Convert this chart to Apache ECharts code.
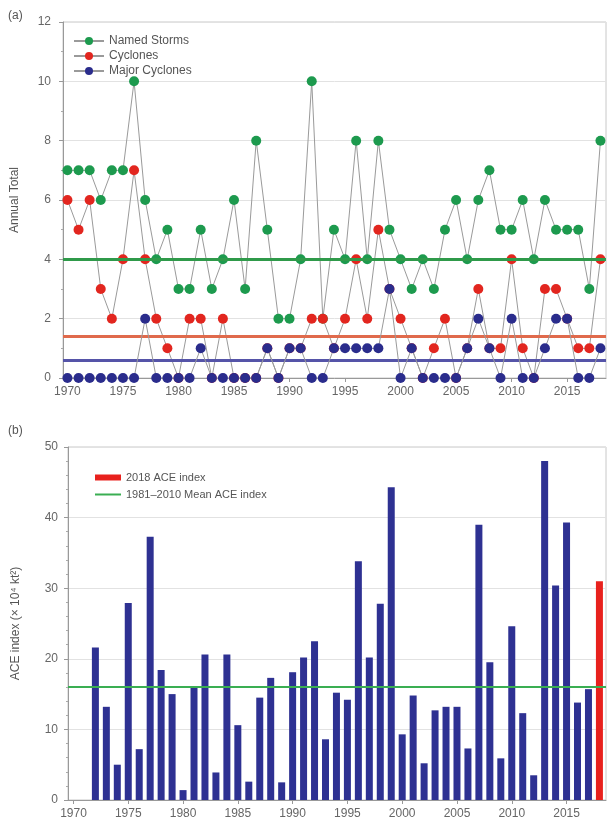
<!DOCTYPE html>
<html>
<head>
<meta charset="utf-8">
<style>
  html, body { margin: 0; padding: 0; background: #fff; }
  #chart { width: 608px; height: 823px; }
</style>
<script src="https://cdn.jsdelivr.net/npm/echarts@6/dist/echarts.min.js"></script>
</head>
<body>
<div id="chart"></div>
<script>
// ---- Data ----
const years = [];
for (let y = 1970; y <= 2018; y++) years.push(y);

const namedStorms = [7,7,7,6,7,7,10,6,4,5,3,3,5,3,4,6,3,8,5,2,2,4,10,2,5,4,8,4,8,5,4,3,4,3,5,6,4,6,7,5,5,6,4,6,5,5,5,3,8];
const cyclones    = [6,5,6,3,2,4,7,4,2,1,0,2,2,0,2,0,0,0,1,0,1,1,2,2,1,2,4,2,5,3,2,1,0,1,2,0,1,3,1,1,4,1,0,3,3,2,1,1,4];
const majorCyc    = [0,0,0,0,0,0,0,2,0,0,0,0,1,0,0,0,0,0,1,0,1,1,0,0,1,1,1,1,1,3,0,1,0,0,0,0,1,2,1,0,2,0,0,1,2,2,0,0,1];

const meanNamed = 4.0;
const meanCyclones = 1.4;
const meanMajor = 0.6;

const aceYears = [];
for (let y = 1972; y <= 2017; y++) aceYears.push(y);
const aceValues = [21.6,13.2,5.0,27.9,7.2,37.3,18.4,15.0,1.4,16.0,20.6,3.9,20.6,10.6,2.6,14.5,17.3,2.5,18.1,20.2,22.5,8.6,15.2,14.2,33.8,20.2,27.8,44.3,9.3,14.8,5.2,12.7,13.2,13.2,7.3,39.0,19.5,5.9,24.6,12.3,3.5,48.0,30.4,39.3,13.8,15.7];
const ace2018Year = 2018;
const ace2018Value = 31.0;
const meanACE = 16.0;

const yearTicks = [1970,1975,1980,1985,1990,1995,2000,2005,2010,2015];

// ---- Chart ----
const chart = echarts.init(document.getElementById('chart'), null, { renderer: 'canvas' });
const FONT = 'Liberation Sans, Arial, sans-serif';
const labelStyle = { color: '#666', fontSize: 12, fontFamily: FONT };
const pairs = (xs, vs) => xs.map((x, i) => [x, vs[i]]);
const yearFmt = v => String(Math.round(v));

const lineSeries = (name, vals, color, z) => ({
  name, type: 'line', xAxisIndex: 0, yAxisIndex: 0,
  data: pairs(years, vals),
  symbol: 'circle', symbolSize: 10,
  lineStyle: { color: '#9a9a9a', width: 1 },
  itemStyle: { color },
  z, animation: false
});

const xAxisCommon = {
  type: 'value',
  axisLine: { show: true, lineStyle: { color: '#999' } },
  axisTick: { show: true, customValues: yearTicks, length: 4, lineStyle: { color: '#999' } },
  axisLabel: Object.assign({ customValues: yearTicks, margin: 8, formatter: yearFmt }, labelStyle),
  splitLine: { show: false }
};

const option = {
  animation: false,
  backgroundColor: '#fff',
  grid: [
    { left: 63, right: 2, top: 22, height: 356, show: true, borderColor: '#c8c8c8', borderWidth: 1 },
    { left: 68, right: 2, top: 447, height: 353, show: true, borderColor: '#c8c8c8', borderWidth: 1 }
  ],
  legend: [
    {
      orient: 'vertical', left: 68, top: 30, itemGap: 3, itemWidth: 30, itemHeight: 10,
      textStyle: { color: '#555', fontSize: 12, fontFamily: FONT },
      data: ['Named Storms', 'Cyclones', 'Major Cyclones']
    },
    {
      orient: 'vertical', left: 90, top: 467, itemWidth: 26, itemHeight: 6,
      textStyle: { color: '#555', fontSize: 11, fontFamily: FONT },
      data: [{ name: '2018 ACE index', icon: 'rect' }]
    },
    {
      orient: 'vertical', left: 90, top: 484, itemWidth: 26, itemHeight: 2,
      textStyle: { color: '#555', fontSize: 11, fontFamily: FONT },
      data: [{ name: '1981–2010 Mean ACE index', icon: 'rect' }]
    }
  ],
  graphic: [
    { type: 'text', left: 8, top: 10, style: { text: '(a)', fill: '#555', font: '12px ' + FONT } },
    { type: 'text', left: 8, top: 425, style: { text: '(b)', fill: '#555', font: '12px ' + FONT } }
  ],
  xAxis: [
    Object.assign({ gridIndex: 0, min: 1969.6, max: 2018.5 }, xAxisCommon),
    Object.assign({ gridIndex: 1, min: 1969.5, max: 2018.6 }, xAxisCommon)
  ],
  yAxis: [
    {
      gridIndex: 0, type: 'value', min: 0, max: 12, interval: 2,
      name: 'Annual Total', nameLocation: 'middle', nameGap: 42,
      nameTextStyle: { color: '#555', fontSize: 12, fontFamily: FONT },
      axisLine: { show: true, lineStyle: { color: '#999' } },
      axisTick: { show: true, length: 4, lineStyle: { color: '#999' } },
      minorTick: { show: true, splitNumber: 2, length: 2, lineStyle: { color: '#aaa' } },
      axisLabel: Object.assign({ margin: 12 }, labelStyle),
      splitLine: { show: true, lineStyle: { color: '#e2e2e2', width: 1 } }
    },
    {
      gridIndex: 1, type: 'value', min: 0, max: 50, interval: 10,
      name: 'ACE index (× 10⁴ kt²)', nameLocation: 'middle', nameGap: 46,
      nameTextStyle: { color: '#555', fontSize: 12, fontFamily: FONT },
      axisLine: { show: true, lineStyle: { color: '#999' } },
      axisTick: { show: true, length: 4, lineStyle: { color: '#999' } },
      minorTick: { show: true, splitNumber: 5, length: 2, lineStyle: { color: '#aaa' } },
      axisLabel: Object.assign({ margin: 10 }, labelStyle),
      splitLine: { show: true, lineStyle: { color: '#e2e2e2', width: 1 } }
    }
  ],
  series: [
    {
      name: 'meanlines', type: 'line', xAxisIndex: 0, yAxisIndex: 0, data: [],
      markLine: {
        silent: true, symbol: 'none', label: { show: false }, animation: false,
        data: [
          { yAxis: meanNamed, lineStyle: { color: '#2f9a4a', width: 3, type: 'solid' } },
          { yAxis: meanCyclones, lineStyle: { color: '#e06a4c', width: 3, type: 'solid' } },
          { yAxis: meanMajor, lineStyle: { color: '#5554a8', width: 3, type: 'solid' } }
        ]
      },
      z: 1
    },
    lineSeries('Named Storms', namedStorms, '#1d9a4e', 3),
    lineSeries('Cyclones', cyclones, '#e2261f', 4),
    lineSeries('Major Cyclones', majorCyc, '#2a2c8c', 5),
    {
      name: 'ACE index', type: 'bar', xAxisIndex: 1, yAxisIndex: 1,
      data: pairs(aceYears, aceValues), barWidth: 7, stack: 'ace',
      itemStyle: { color: '#2e3192' }, z: 2
    },
    {
      name: '2018 ACE index', type: 'bar', xAxisIndex: 1, yAxisIndex: 1,
      data: [[ace2018Year, ace2018Value]], barWidth: 7, stack: 'ace',
      itemStyle: { color: '#e8211d' }, z: 2
    },
    {
      name: '1981–2010 Mean ACE index', type: 'line', xAxisIndex: 1, yAxisIndex: 1, data: [],
      symbol: 'none', lineStyle: { color: '#3aae52', width: 2 }, itemStyle: { color: '#3aae52' },
      markLine: {
        silent: true, symbol: 'none', label: { show: false }, animation: false,
        data: [{ yAxis: meanACE }],
        lineStyle: { color: '#3aae52', width: 2, type: 'solid' }
      },
      z: 3
    }
  ]
};
chart.setOption(option);
</script>
</body>
</html>
